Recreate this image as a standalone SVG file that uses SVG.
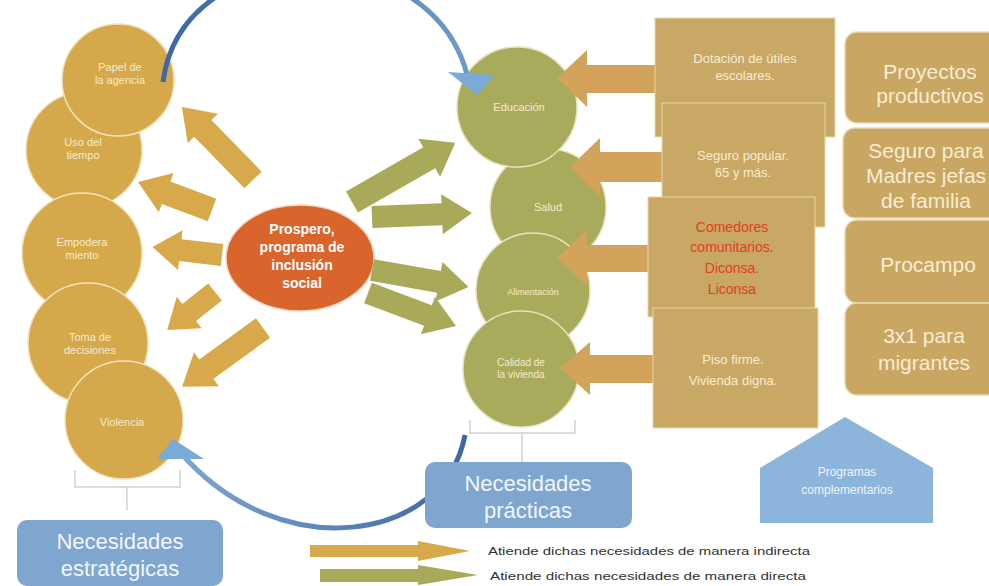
<svg xmlns="http://www.w3.org/2000/svg" width="989" height="586" viewBox="0 0 989 586">
<defs>
<style>
text{font-family:"Liberation Sans","DejaVu Sans",sans-serif;text-anchor:middle}
.tc{fill:#D5A84B;stroke:#F3E3BC;stroke-width:1.5}
.gc{fill:#A8AA5C;stroke:#E6E3BD;stroke-width:1.5}
.ta{fill:#D8A94A}
.ga{fill:#A8AA5A}
.ba{fill:#D3A35C}
.box{fill:#C9A764;stroke:#E8D7AE;stroke-width:1}
.rbox{fill:#C9A662;stroke:#EADAB4;stroke-width:1.5}
.ct{fill:#F6EBCB;font-size:11px}
.bt{fill:#F7EDD2;font-size:13px}
.red{fill:#E2401F}
.big{font-size:21px;fill:#F7EDD2}
.blue{fill:#7EA6CF}
.bl{fill:#F2F6FB;font-size:22px}
.brk{fill:none;stroke:#CFCFD6;stroke-width:1.5}
</style>
<linearGradient id="g1" x1="0" y1="0" x2="1" y2="0">
<stop offset="0" stop-color="#3E67A3"/><stop offset="1" stop-color="#6F9BCB"/>
</linearGradient>
<linearGradient id="g2" x1="1" y1="0" x2="0" y2="0">
<stop offset="0" stop-color="#3E67A3"/><stop offset="1" stop-color="#7DA6D3"/>
</linearGradient>
</defs>
<rect width="989" height="586" fill="#FFFFFF"/>

<g id="left-circles">
<g id="uso"><circle class="tc" cx="84" cy="150" r="58"/><text class="ct" x="83" y="146">Uso del</text><text class="ct" x="83" y="159">tiempo</text></g>
<g id="papel"><circle class="tc" cx="118" cy="80" r="56"/><text class="ct" x="120" y="71">Papel de</text><text class="ct" x="120" y="84">la agencia</text></g>
<g id="empoderamiento"><circle class="tc" cx="82" cy="253" r="60"/><text class="ct" x="82" y="246">Empodera</text><text class="ct" x="82" y="259">miento</text></g>
<g id="toma"><circle class="tc" cx="88" cy="343" r="60"/><text class="ct" x="90" y="341">Toma de</text><text class="ct" x="90" y="354">decisiones</text></g>
<g id="violencia"><circle class="tc" cx="124" cy="420" r="59"/><text class="ct" x="122" y="426">Violencia</text></g>
</g>

<g id="green-circles">
<g id="salud"><circle class="gc" cx="548" cy="207" r="58"/><text class="ct" x="548" y="211">Salud</text></g>
<g id="educacion"><circle class="gc" cx="517" cy="107" r="60"/><text class="ct" x="519" y="111">Educación</text></g>
<g id="alimentacion"><circle class="gc" cx="533" cy="290" r="57"/><text class="ct" x="533" y="295" style="font-size:9px">Alimentación</text></g>
<g id="calidad"><circle class="gc" cx="521" cy="369" r="58"/><text class="ct" x="521" y="366" style="font-size:10px">Calidad de</text><text class="ct" x="521" y="378" style="font-size:10px">la vivienda</text></g>
</g>

<g id="prospero">
<ellipse cx="300" cy="258" rx="74" ry="53" fill="#D9642C" stroke="#F3D9C2" stroke-width="1.5"/>
<text x="302" y="234" fill="#FFFFFF" font-size="14" font-weight="bold">Prospero,</text>
<text x="302" y="252" fill="#FFFFFF" font-size="14" font-weight="bold">programa de</text>
<text x="302" y="270" fill="#FFFFFF" font-size="14" font-weight="bold">inclusión</text>
<text x="302" y="288" fill="#FFFFFF" font-size="14" font-weight="bold">social</text>
</g>

<g id="connectors">
<polygon class="ta" transform="translate(253,180) rotate(-134.2)" points="0,-12 72,-12 72,-21 102,0 72,21 72,12 0,12"/>
<polygon class="ta" transform="translate(212,210) rotate(200.7)" points="0,-12 49,-12 49,-21 79,0 49,21 49,12 0,12"/>
<polygon class="ta" transform="translate(222,255) rotate(186.6)" points="0,-11 42,-11 42,-20 70,0 42,20 42,11 0,11"/>
<polygon class="ta" transform="translate(215,292) rotate(141.6)" points="0,-11 33,-11 33,-20 61,0 33,20 33,11 0,11"/>
<polygon class="ta" transform="translate(263,328) rotate(144)" points="0,-12 70,-12 70,-21 100,0 70,21 70,12 0,12"/>
<polygon class="ga" transform="translate(352,202) rotate(-29.8)" points="0,-12 89,-12 89,-22 119,0 89,22 89,12 0,12"/>
<polygon class="ga" transform="translate(372,217) rotate(-2.3)" points="0,-11 70,-11 70,-20 100,0 70,20 70,11 0,11"/>
<polygon class="ga" transform="translate(372,270) rotate(10)" points="0,-11 68,-11 68,-20 98,0 68,20 68,11 0,11"/>
<polygon class="ga" transform="translate(368,293) rotate(20.6)" points="0,-11 64,-11 64,-20 94,0 64,20 64,11 0,11"/>
<polygon class="ba" points="660,65 587,65 587,50 557,78 587,107 587,93 660,93"/>
<polygon class="ba" points="665,152 600,152 600,138 570,167 600,197 600,182 665,182"/>
<polygon class="ba" points="650,245 587,245 587,230 557,258 587,286 587,272 650,272"/>
<polygon class="ba" points="655,355 590,355 590,342 560,368 590,395 590,383 655,383"/>
<path d="M163,82 C182,-65 432,-70 468,78" fill="none" stroke="url(#g1)" stroke-width="5"/>
<polygon points="448,72 495,75 477,95" fill="#7BAAD8"/>
<path d="M465,435 C445,542 280,568 180,452" fill="none" stroke="url(#g2)" stroke-width="5"/>
<polygon points="157,459 173,439 204,459" fill="#7BAAD8"/>
<path class="brk" d="M75,470 V487 H180 V470 M127,487 V510"/>
<path class="brk" d="M470,420 V433 H575 V420 M522,433 V462"/>
</g>

<g id="boxes">
<g id="dotacion"><rect class="box" x="655" y="18" width="180" height="119"/><text class="bt" x="745" y="63">Dotación de útiles</text><text class="bt" x="745" y="80">escolares.</text></g>
<g id="seguro-popular"><rect class="box" x="662" y="103" width="163" height="124"/><text class="bt" x="743" y="160">Seguro popular.</text><text class="bt" x="743" y="177">65 y más.</text></g>
<g id="comedores"><rect class="box" x="648" y="197" width="167" height="120"/><text class="bt red" x="732" y="232" style="font-size:14px">Comedores</text><text class="bt red" x="732" y="252" style="font-size:14px">comunitarios.</text><text class="bt red" x="732" y="273" style="font-size:14px">Diconsa.</text><text class="bt red" x="732" y="294" style="font-size:14px">Liconsa</text></g>
<g id="piso"><rect class="box" x="653" y="308" width="165" height="120"/><text class="bt" x="733" y="364">Piso firme.</text><text class="bt" x="733" y="385">Vivienda digna.</text></g>
</g>

<g id="complementarios">
<g id="proyectos"><rect class="rbox" x="845" y="32" width="170" height="91" rx="12"/><text class="big red" x="930" y="79">Proyectos</text><text class="big red" x="930" y="103">productivos</text></g>
<g id="seguro-madres"><rect class="rbox" x="843" y="128" width="172" height="90" rx="12"/><text class="big" x="926" y="158">Seguro para</text><text class="big" x="926" y="183">Madres jefas</text><text class="big" x="926" y="208">de familia</text></g>
<g id="procampo"><rect class="rbox" x="845" y="220" width="170" height="83" rx="12"/><text class="big" x="928" y="272">Procampo</text></g>
<g id="tres-por-uno"><rect class="rbox" x="845" y="303" width="170" height="92" rx="12"/><text class="big" x="924" y="343">3x1 para</text><text class="big" x="924" y="370">migrantes</text></g>
</g>

<g id="programas">
<polygon points="845,417 933,468 933,523 760,523 760,468" fill="#8DB4DA"/>
<text x="847" y="476" fill="#EEF4FA" font-size="12">Programas</text>
<text x="847" y="494" fill="#EEF4FA" font-size="12">complementarios</text>
</g>

<g id="necesidades-estrategicas">
<rect class="blue" x="17" y="520" width="206" height="66" rx="10"/>
<text class="bl" x="120" y="549">Necesidades</text>
<text class="bl" x="120" y="576">estratégicas</text>
</g>
<g id="necesidades-practicas">
<rect class="blue" x="425" y="462" width="207" height="66" rx="10"/>
<text class="bl" x="528" y="491">Necesidades</text>
<text class="bl" x="528" y="518">prácticas</text>
</g>

<g id="legend">
<polygon class="ta" points="310,545 418,545 418,541 470,551 418,561 418,557 310,557"/>
<polygon class="ga" points="320,569 418,569 418,565 478,575 418,585 418,582 320,582"/>
<text x="488" y="555" fill="#333333" font-size="11" style="text-anchor:start" textLength="322" lengthAdjust="spacingAndGlyphs">Atiende dichas necesidades de manera indirecta</text>
<text x="490" y="580" fill="#333333" font-size="11" style="text-anchor:start" textLength="316" lengthAdjust="spacingAndGlyphs">Atiende dichas  necesidades de manera directa</text>
</g>
</svg>
